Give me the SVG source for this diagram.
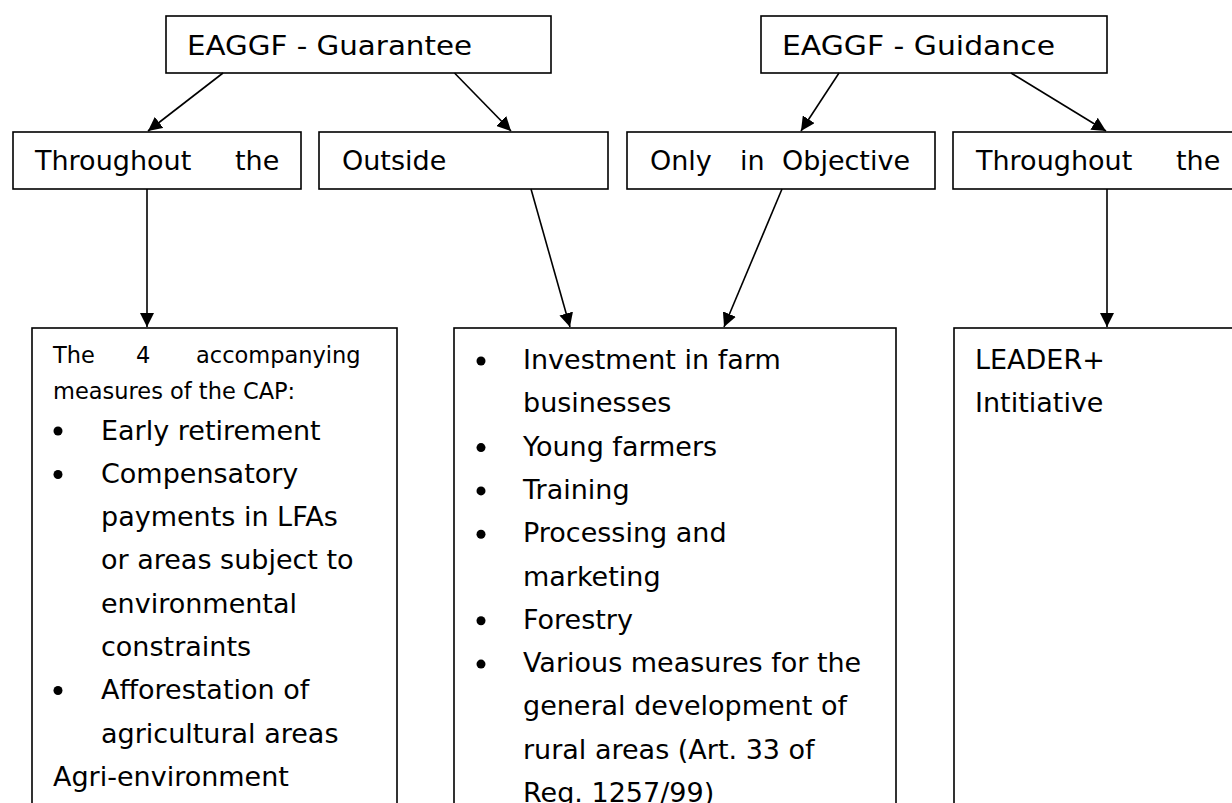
<svg xmlns="http://www.w3.org/2000/svg" width="1232" height="803" viewBox="0 0 1232 803">
<style>
rect.box{fill:#fff;stroke:#000;stroke-width:1.6}
text{font-family:"DejaVu Sans","Liberation Sans",sans-serif;fill:#000}
.big{font-size:27px}
.small{font-size:22.5px}
.conn line{stroke:#000;stroke-width:1.6;marker-end:url(#arr)}
circle.b{fill:#000}
</style>
<defs>
<marker id="arr" viewBox="0 0 14 14" refX="14" refY="7" markerWidth="14" markerHeight="14" markerUnits="userSpaceOnUse" orient="auto">
<path d="M0,0 L14,7 L0,14 z" fill="#000"/>
</marker>
</defs>
<rect width="1232" height="803" fill="#fff"/>

<g id="guarantee">
<rect class="box" x="166" y="16" width="385" height="57"/>
<text class="big" x="187" y="55" textLength="285" lengthAdjust="spacingAndGlyphs">EAGGF - Guarantee</text>
</g>
<g id="guidance">
<rect class="box" x="761" y="16" width="346" height="57"/>
<text class="big" x="782" y="55" textLength="273" lengthAdjust="spacingAndGlyphs">EAGGF - Guidance</text>
</g>

<g id="throughout1">
<rect class="box" x="13" y="132" width="288" height="57"/>
<text class="big" y="170"><tspan x="35">Throughout</tspan><tspan x="235">the</tspan></text>
</g>
<g id="outside">
<rect class="box" x="319" y="132" width="289" height="57"/>
<text class="big" x="342" y="170">Outside</text>
</g>
<g id="objective">
<rect class="box" x="627" y="132" width="308" height="57"/>
<text class="big" y="170"><tspan x="650">Only</tspan><tspan x="740">in</tspan><tspan x="782">Objective</tspan></text>
</g>
<g id="throughout2">
<rect class="box" x="953" y="132" width="300" height="57"/>
<text class="big" y="170"><tspan x="976">Throughout</tspan><tspan x="1176">the</tspan></text>
</g>

<g id="accompanying">
<rect class="box" x="32" y="328" width="365" height="500"/>
<text class="small" y="363"><tspan x="53">The</tspan><tspan x="136">4</tspan><tspan x="196">accompanying</tspan></text>
<text class="small" x="53" y="399">measures of the CAP:</text>
<circle class="b" cx="58" cy="431" r="4.5"/>
<text class="big" x="101" y="439.5">Early retirement</text>
<circle class="b" cx="58" cy="474.5" r="4.5"/>
<text class="big" x="101" y="482.8">Compensatory</text>
<text class="big" x="101" y="526.1">payments in LFAs</text>
<text class="big" x="101" y="569.4">or areas subject to</text>
<text class="big" x="101" y="612.7">environmental</text>
<text class="big" x="101" y="656">constraints</text>
<circle class="b" cx="58" cy="690.5" r="4.5"/>
<text class="big" x="101" y="699.3">Afforestation of</text>
<text class="big" x="101" y="742.6">agricultural areas</text>
<text class="big" x="53" y="785.9">Agri-environment</text>
</g>

<g id="measures">
<rect class="box" x="454" y="328" width="442" height="500"/>
<circle class="b" cx="481" cy="361" r="4.5"/>
<text class="big" x="523" y="369">Investment in farm</text>
<text class="big" x="523" y="412.3">businesses</text>
<circle class="b" cx="481" cy="447.6" r="4.5"/>
<text class="big" x="523" y="455.6">Young farmers</text>
<circle class="b" cx="481" cy="490.9" r="4.5"/>
<text class="big" x="523" y="498.9">Training</text>
<circle class="b" cx="481" cy="534.2" r="4.5"/>
<text class="big" x="523" y="542.2">Processing and</text>
<text class="big" x="523" y="585.5">marketing</text>
<circle class="b" cx="481" cy="620.8" r="4.5"/>
<text class="big" x="523" y="628.8">Forestry</text>
<circle class="b" cx="481" cy="664.1" r="4.5"/>
<text class="big" x="523" y="672.1">Various measures for the</text>
<text class="big" x="523" y="715.4">general development of</text>
<text class="big" x="523" y="758.7">rural areas (Art. 33 of</text>
<text class="big" x="523" y="802">Reg. 1257/99)</text>
</g>

<g id="leader">
<rect class="box" x="954" y="328" width="300" height="500"/>
<text class="big" x="975" y="369">LEADER+</text>
<text class="big" x="975" y="412.3">Intitiative</text>
</g>

<g class="conn" id="connectors">
<line x1="223" y1="73" x2="148" y2="131"/>
<line x1="454.5" y1="73" x2="511" y2="131"/>
<line x1="839" y1="73" x2="801" y2="131"/>
<line x1="1011" y1="73" x2="1106" y2="131"/>
<line x1="147" y1="189" x2="147" y2="327"/>
<line x1="531" y1="189" x2="570" y2="327"/>
<line x1="782" y1="189" x2="724" y2="327"/>
<line x1="1107" y1="189" x2="1107" y2="327"/>
</g>
</svg>
